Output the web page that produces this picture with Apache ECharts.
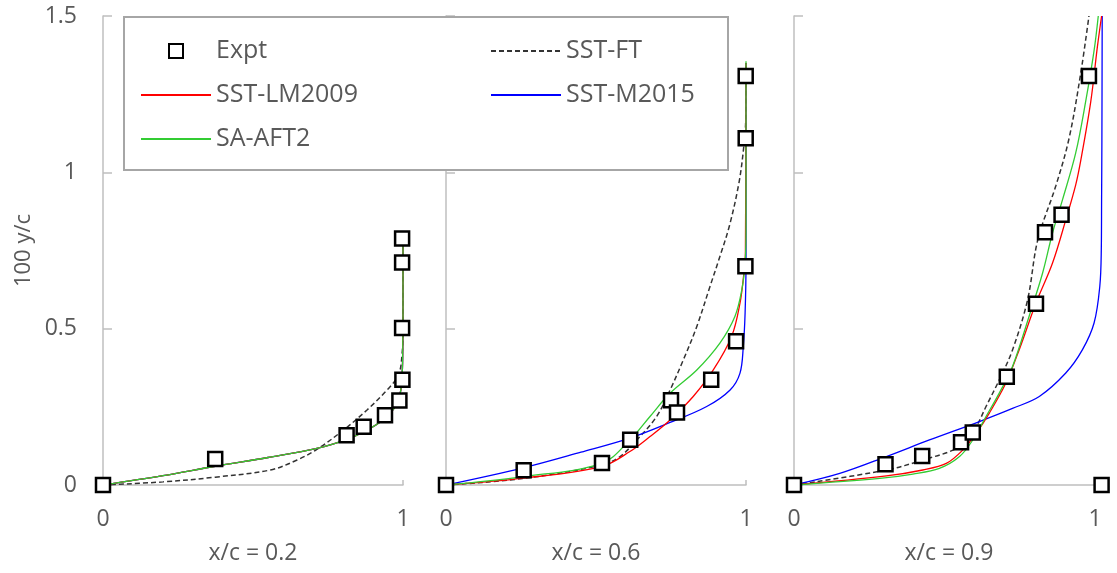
<!DOCTYPE html>
<html><head><meta charset="utf-8">
<script src="https://cdn.jsdelivr.net/npm/echarts@6/dist/echarts.min.js"></script>
<style>html,body{margin:0;padding:0;background:#fff}#c{width:1117px;height:573px}</style>
</head><body><div id="c"></div><script>
const panelTitles = ['x/c = 0.2', 'x/c = 0.6', 'x/c = 0.9'];
const yTicks = [0, 0.5, 1, 1.5];
const xTicks = [0, 1];
const seriesNames = ['Expt', 'SST-FT', 'SST-LM2009', 'SST-M2015', 'SA-AFT2'];

// ---- Panel 1 : x/c = 0.2 ----
const p1ExptX = [0, 0.374, 0.812, 0.869, 0.94, 0.988, 0.998, 0.997, 0.997, 0.997];
const p1ExptY = [0, 0.083, 0.159, 0.186, 0.223, 0.27, 0.337, 0.502, 0.712, 0.788];
const p1FtX = [0, 0.2, 0.374, 0.558, 0.647, 0.713, 0.802, 0.88, 0.947, 0.985, 0.997, 1.0, 1.0];
const p1FtY = [0, 0.01, 0.025, 0.048, 0.08, 0.114, 0.176, 0.24, 0.304, 0.352, 0.42, 0.5, 0.79];
const p1LmX = [0, 0.2, 0.374, 0.55, 0.713, 0.813, 0.88, 0.936, 0.974, 0.991, 0.997, 0.999, 1.0, 1.0];
const p1LmY = [0, 0.03, 0.06, 0.088, 0.117, 0.146, 0.175, 0.21, 0.25, 0.295, 0.35, 0.42, 0.55, 0.79];
const p1MX = [0, 0.2, 0.374, 0.55, 0.713, 0.813, 0.88, 0.936, 0.974, 0.991, 0.997, 0.999, 1.0, 1.0];
const p1MY = [0, 0.03, 0.06, 0.088, 0.117, 0.146, 0.175, 0.21, 0.25, 0.295, 0.35, 0.42, 0.55, 0.79];
const p1AftX = [0, 0.2, 0.374, 0.55, 0.713, 0.813, 0.88, 0.936, 0.974, 0.991, 0.997, 0.999, 1.0, 1.0];
const p1AftY = [0, 0.03, 0.06, 0.088, 0.117, 0.146, 0.175, 0.21, 0.25, 0.295, 0.35, 0.42, 0.55, 0.79];

// ---- Panel 2 : x/c = 0.6 ----
const p2ExptX = [0, 0.259, 0.52, 0.614, 0.75, 0.77, 0.884, 0.967, 0.998, 0.999, 0.999];
const p2ExptY = [0, 0.047, 0.07, 0.145, 0.271, 0.232, 0.337, 0.46, 0.7, 1.109, 1.308];
const p2FtX = [0, 0.258, 0.519, 0.58, 0.636, 0.702, 0.747, 0.791, 0.836, 0.88, 0.913, 0.945, 0.977, 0.993, 0.999, 1.0];
const p2FtY = [0, 0.021, 0.064, 0.091, 0.144, 0.219, 0.304, 0.4, 0.507, 0.635, 0.731, 0.83, 0.969, 1.086, 1.167, 1.35];
const p2LmX = [0, 0.258, 0.519, 0.613, 0.68, 0.747, 0.824, 0.891, 0.952, 0.98, 0.993, 0.998, 1.0];
const p2LmY = [0, 0.022, 0.059, 0.107, 0.155, 0.208, 0.283, 0.368, 0.475, 0.582, 0.678, 0.74, 1.35];
const p2MX = [0, 0.258, 0.45, 0.613, 0.747, 0.869, 0.947, 0.98, 0.991, 0.997, 1.0, 1.0];
const p2MY = [0, 0.055, 0.105, 0.15, 0.2, 0.251, 0.304, 0.358, 0.443, 0.55, 0.71, 1.35];
const p2AftX = [0, 0.258, 0.519, 0.613, 0.68, 0.747, 0.836, 0.913, 0.963, 0.986, 0.997, 1.0, 1.0];
const p2AftY = [0, 0.027, 0.069, 0.144, 0.219, 0.294, 0.368, 0.454, 0.539, 0.624, 0.71, 0.816, 1.355];

// ---- Panel 3 : x/c = 0.9 ----
const p3ExptX = [0, 0.304, 0.426, 0.555, 0.594, 0.707, 0.804, 0.834, 0.889, 0.98, 1.022];
const p3ExptY = [0, 0.066, 0.093, 0.137, 0.168, 0.346, 0.58, 0.808, 0.864, 1.308, 0];
const p3FtX = [0, 0.307, 0.428, 0.55, 0.605, 0.638, 0.682, 0.726, 0.776, 0.81, 0.87, 0.914, 0.953, 0.98];
const p3FtY = [0, 0.048, 0.08, 0.123, 0.187, 0.251, 0.336, 0.432, 0.592, 0.784, 0.957, 1.109, 1.319, 1.5];
const p3LmX = [0, 0.307, 0.428, 0.506, 0.561, 0.605, 0.649, 0.704, 0.748, 0.804, 0.859, 0.903, 0.936, 0.953, 0.986, 1.008, 1.022];
const p3LmY = [0, 0.029, 0.048, 0.069, 0.112, 0.165, 0.23, 0.326, 0.432, 0.582, 0.71, 0.848, 0.96, 1.039, 1.226, 1.401, 1.5];
const p3MX = [0, 0.152, 0.307, 0.45, 0.616, 0.726, 0.815, 0.903, 0.958, 0.997, 1.016, 1.021, 1.022, 1.023, 1.024];
const p3MY = [0, 0.037, 0.091, 0.144, 0.203, 0.245, 0.283, 0.358, 0.432, 0.518, 0.635, 0.752, 0.912, 1.1, 1.5];
const p3AftX = [0, 0.285, 0.395, 0.483, 0.55, 0.594, 0.638, 0.682, 0.726, 0.781, 0.826, 0.859, 0.892, 0.936, 0.969, 0.997, 1.011];
const p3AftY = [0, 0.021, 0.035, 0.053, 0.091, 0.144, 0.219, 0.294, 0.379, 0.539, 0.678, 0.806, 0.912, 1.062, 1.226, 1.389, 1.5];

const zip = (xs, ys) => xs.map((x, i) => [x, ys[i]]);
const panels = [
  {expt: zip(p1ExptX, p1ExptY), ft: zip(p1FtX, p1FtY), lm: zip(p1LmX, p1LmY), m: zip(p1MX, p1MY), aft: zip(p1AftX, p1AftY)},
  {expt: zip(p2ExptX, p2ExptY), ft: zip(p2FtX, p2FtY), lm: zip(p2LmX, p2LmY), m: zip(p2MX, p2MY), aft: zip(p2AftX, p2AftY)},
  {expt: zip(p3ExptX, p3ExptY), ft: zip(p3FtX, p3FtY), lm: zip(p3LmX, p3LmY), m: zip(p3MX, p3MY), aft: zip(p3AftX, p3AftY)}
];

const FONT = 'Open Sans';
const TXT = '#595959';
const AX = '#bfbfbf';
const gridDefs = [
  {left: 103, top: 16, width: 300, height: 469},
  {left: 446, top: 16, width: 300, height: 469},
  {left: 794, top: 16, width: 310, height: 469}
];
const xMax = [1, 1, 1.03];

const lineBase = (name, idx, data, color, type, width, z) => ({
  name, type: 'line', xAxisIndex: idx, yAxisIndex: idx, data,
  symbol: 'none', showSymbol: false, smooth: 0.35,
  lineStyle: {color, width, type}, itemStyle: {color}, z, silent: true
});

const series = [];
panels.forEach((p, i) => {
  series.push(lineBase('SST-FT', i, p.ft, '#333333', [5, 3], 1.5, 2));
  series.push(lineBase('SST-M2015', i, p.m, '#0000ff', 'solid', 1.3, 3));
  series.push(lineBase('SST-LM2009', i, p.lm, '#ff0000', 'solid', 1.3, 3));
  series.push(lineBase('SA-AFT2', i, p.aft, '#33cc33', 'solid', 1.3, 4));
  series.push({
    name: 'Expt', type: 'scatter', xAxisIndex: i, yAxisIndex: i, data: p.expt,
    symbol: 'rect', symbolSize: 14,
    itemStyle: {color: '#ffffff', borderColor: '#000000', borderWidth: 2.5, opacity: 1},
    z: 6, silent: true
  });
});

const legendText = {fontSize: 25, lineHeight: 30, color: TXT, fontFamily: FONT};
const noDot = {opacity: 0};
const option = {
  animation: false,
  backgroundColor: '#ffffff',
  textStyle: {fontFamily: FONT},
  grid: gridDefs,
  xAxis: gridDefs.map((g, i) => ({
    type: 'value', gridIndex: i, min: 0, max: xMax[i], interval: 1,
    name: panelTitles[i], nameLocation: 'middle', nameGap: 57,
    nameTextStyle: {fontSize: 23, color: TXT, fontFamily: FONT},
    axisLine: {show: true, lineStyle: {color: AX, width: 1.5}},
    axisTick: {show: true, inside: true, length: 5, lineStyle: {color: AX, width: 1.5}, customValues: xTicks},
    axisLabel: {show: true, margin: 23, fontSize: 23, color: TXT, fontFamily: FONT, customValues: xTicks},
    splitLine: {show: false}
  })),
  yAxis: gridDefs.map((g, i) => ({
    type: 'value', gridIndex: i, min: 0, max: 1.5, interval: 0.5,
    name: i === 0 ? '100 y/c' : '', nameLocation: 'middle', nameGap: 68,
    nameTextStyle: {fontSize: 22, color: TXT, fontFamily: FONT},
    axisLine: {show: true, onZero: false, lineStyle: {color: AX, width: 1.5}},
    axisTick: {show: true, inside: true, length: 9, lineStyle: {color: AX, width: 1.5}},
    axisLabel: {show: i === 0, margin: 26, fontSize: 23, color: TXT, fontFamily: FONT,
      formatter: v => yTicks.includes(v) ? String(v) : ''},
    splitLine: {show: false}
  })),
  graphic: [{
    type: 'rect', left: 123, top: 16, z: 10,
    shape: {width: 604, height: 153},
    style: {fill: '#ffffff', stroke: '#a6a6a6', lineWidth: 2}
  }],
  legend: [
    {left: 135, top: 31, orient: 'vertical', itemWidth: 70, itemHeight: 14, itemGap: 14, z: 20,
     selectedMode: false, textStyle: legendText,
     data: [{name: seriesNames[0], icon: 'path://M0,0H10V10H0Z'},
            {name: seriesNames[2], itemStyle: noDot},
            {name: seriesNames[4], itemStyle: noDot}]},
    {left: 485, top: 31, orient: 'vertical', itemWidth: 70, itemHeight: 14, itemGap: 14, z: 20,
     selectedMode: false, textStyle: legendText,
     data: [{name: seriesNames[1], itemStyle: noDot}, {name: seriesNames[3], itemStyle: noDot}]}
  ],
  series
};
const chart = echarts.init(document.getElementById('c'), null, {renderer: 'canvas'});
chart.setOption(option);
</script></body></html>
